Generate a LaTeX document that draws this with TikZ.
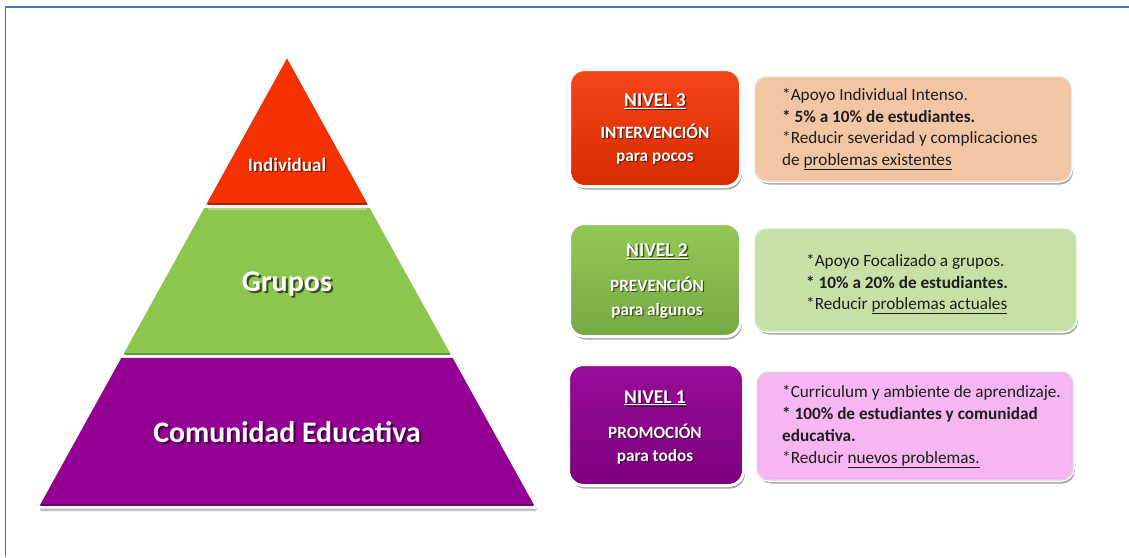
\documentclass[tikz,border=0pt]{standalone}
\usepackage{fontspec}
\setmainfont{Carlito}
\usetikzlibrary{shadows,calc}
\definecolor{frameblue}{HTML}{3B7BC0}
\definecolor{pred}{HTML}{F43100}
\definecolor{pgreen}{HTML}{8CC64E}
\definecolor{ppurple}{HTML}{930093}
\definecolor{peach}{HTML}{F2C5A5}
\definecolor{peachdark}{HTML}{E2AA84}
\definecolor{lgreen}{HTML}{C6E0A6}
\definecolor{lgreendark}{HTML}{AACF80}
\definecolor{pink}{HTML}{F5B6F2}
\definecolor{pinkdark}{HTML}{E197DC}
\definecolor{txt}{HTML}{1E1E1E}
\newcommand\shtxt[2]{\makebox[0pt][l]{\kern0.07em\raisebox{-0.07em}{\color{#1}#2}}#2}
\begin{document}
\begin{tikzpicture}[x=1pt,y=-1pt,
  frame/.style={draw=frameblue,line width=1.3pt},
  layer/.style={draw=white,line width=3pt,line join=miter},
  bevel/.style={line width=2pt,line cap=butt},
  boxshadow/.style={drop shadow={shadow xshift=1.5pt,shadow yshift=-3pt,opacity=0.35,fill=black}},
  lbox/.style={rectangle,rounded corners=15pt,draw=white,line width=3pt,boxshadow,inner sep=0pt},
  rbox/.style={rectangle,rounded corners=13pt,draw=white,line width=3pt,boxshadow,inner sep=0pt},
  redge/.style={rounded corners=11pt,line width=2pt,opacity=0.55},
  ptext/.style={text=white,inner sep=0pt,anchor=base,font=\bfseries},
  ltitle/.style={text=white,inner sep=0pt,anchor=base,font=\bfseries\fontsize{19.5}{22}\selectfont},
  ltext/.style={text=white,inner sep=0pt,anchor=base,font=\bfseries\fontsize{17.2}{20}\selectfont},
  rtext/.style={text=txt,inner sep=0pt,anchor=base west,font=\fontsize{17.2}{20}\selectfont},
  rbold/.style={rtext,font=\bfseries\fontsize{17.2}{20}\selectfont}
]
\useasboundingbox (0,0) rectangle (1129,557);
\fill[white] (0,0) rectangle (1129,557);
% frame
\coordinate (ftl) at (5.5,7);
\coordinate (ftr) at (1129,7);
\coordinate (fbl) at (5.5,557);
\draw[frame] (ftr) -- (ftl) -- (fbl);

% pyramid
\coordinate (apex) at (287,55);
\coordinate (l1) at (203.5,206);
\coordinate (r1) at (370.5,206);
\coordinate (l2) at (120.5,356);
\coordinate (r2) at (453.5,356);
\coordinate (bl) at (37,507);
\coordinate (br) at (537,507);
\fill[black,opacity=0.25] ($(bl)+(2,0)$) -- ($(br)+(1,0)$) -- ($(br)+(-1,4)$) -- ($(bl)+(4,4)$) -- cycle;
\draw[layer,fill=ppurple] (l2) -- (r2) -- (br) -- (bl) -- cycle;
\draw[layer,fill=pgreen] (l1) -- (r1) -- (r2) -- (l2) -- cycle;
\draw[layer,fill=pred] (apex) -- (r1) -- (l1) -- cycle;
\draw[bevel,draw=ppurple!70!black] ($(bl)+(4,-2.5)$) -- ($(br)+(-4,-2.5)$);
\draw[bevel,draw=pgreen!75!black] ($(l2)+(4,-2.5)$) -- ($(r2)+(-4,-2.5)$);
\draw[bevel,draw=pred!70!black] ($(l1)+(4,-2.5)$) -- ($(r1)+(-4,-2.5)$);
\draw[line width=1.5pt,draw=pgreen!70!white] ($(l1)+(4,3)$) -- ($(r1)+(-4,3)$);

\node[ptext,font=\bfseries\fontsize{19}{23}\selectfont] (tind) at (287,171) {\shtxt{pred!45!black}{Individual}};
\node[ptext,font=\bfseries\fontsize{30}{34}\selectfont] (tgru) at (287,291) {\shtxt{pgreen!40!black}{Grupos}};
\node[ptext,font=\bfseries\fontsize{29.8}{34}\selectfont] (tcom) at (287,442) {\shtxt{ppurple!45!black}{Comunidad Educativa}};

% left boxes
\node[lbox,top color=pred!90!white,bottom color=pred!88!black,minimum width=171pt,minimum height=117pt] (n3) at (655,128) {};
\node[lbox,top color=pgreen!95!white,bottom color=pgreen!85!black,minimum width=171pt,minimum height=113pt] (n2) at (655,280) {};
\node[lbox,top color=ppurple!95!white,bottom color=ppurple!85!black,minimum width=175pt,minimum height=121pt] (n1) at (656,425) {};

\node[ltitle] (n3a) at (655,106.5) {\shtxt{pred!45!black}{\underline{NIVEL 3}}};
\node[ltext] (n3b) at (655,138) {\shtxt{pred!45!black}{INTERVENCIÓN}};
\node[ltext] (n3c) at (655,161.5) {\shtxt{pred!45!black}{para pocos}};

\node[ltitle] (n2a) at (657,256.5) {\shtxt{pgreen!40!black}{\underline{NIVEL 2}}};
\node[ltext] (n2b) at (657,291.5) {\shtxt{pgreen!40!black}{PREVENCIÓN}};
\node[ltext] (n2c) at (657,315) {\shtxt{pgreen!40!black}{para algunos}};

\node[ltitle] (n1a) at (655,403) {\shtxt{ppurple!45!black}{\underline{NIVEL 1}}};
\node[ltext] (n1b) at (655,438) {\shtxt{ppurple!45!black}{PROMOCIÓN}};
\node[ltext] (n1c) at (655,461.5) {\shtxt{ppurple!45!black}{para todos}};

% right boxes
\node[rbox,fill=peach,minimum width=317pt,minimum height=105pt] (d3) at (913,129) {};
\node[rbox,fill=lgreen,minimum width=322pt,minimum height=103pt] (d2) at (915.5,280) {};
\node[rbox,fill=pink,minimum width=317pt,minimum height=109pt] (d1) at (915,426) {};
\draw[redge,draw=peachdark] ([xshift=2.5pt,yshift=-2.5pt]d3.north west) rectangle ([xshift=-2.5pt,yshift=2.5pt]d3.south east);
\draw[redge,draw=lgreendark] ([xshift=2.5pt,yshift=-2.5pt]d2.north west) rectangle ([xshift=-2.5pt,yshift=2.5pt]d2.south east);
\draw[redge,draw=pinkdark] ([xshift=2.5pt,yshift=-2.5pt]d1.north west) rectangle ([xshift=-2.5pt,yshift=2.5pt]d1.south east);

\node[rtext] (d3a) at (782,100) {*Apoyo Individual Intenso.};
\node[rbold] (d3b) at (782,122) {* 5\% a 10\% de estudiantes.};
\node[rtext] (d3c) at (782,143.5) {*Reducir severidad y complicaciones};
\node[rtext] (d3d) at (782,165.5) {de \underline{problemas existentes}};

\node[rtext] (d2a) at (806,266) {*Apoyo Focalizado a grupos.};
\node[rbold] (d2b) at (806,288) {* 10\% a 20\% de estudiantes.};
\node[rtext] (d2c) at (806,309.5) {*Reducir \underline{problemas actuales}};

\node[rtext] (d1a) at (782,397) {*Curriculum y ambiente de aprendizaje.};
\node[rbold] (d1b) at (782,419) {* 100\% de estudiantes y comunidad};
\node[rbold] (d1c) at (782,441) {educativa.};
\node[rtext] (d1d) at (782,463) {*Reducir \underline{nuevos problemas.}};
\end{tikzpicture}
\end{document}
